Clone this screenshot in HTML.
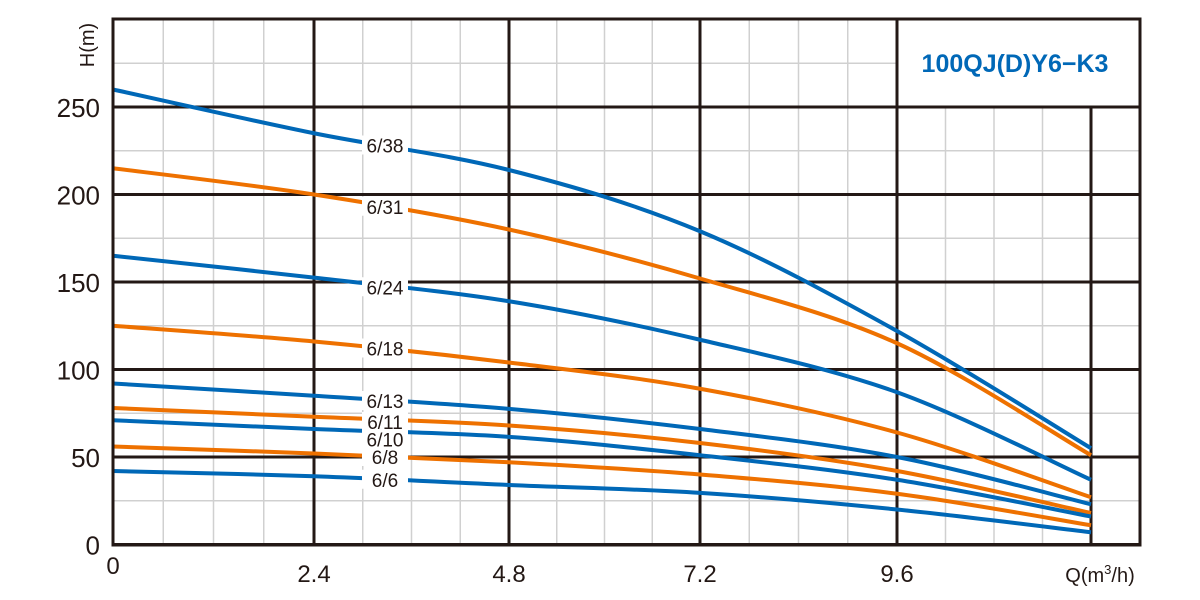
<!DOCTYPE html>
<html><head><meta charset="utf-8"><style>
body{margin:0;background:#fff;}
svg{display:block;font-family:"Liberation Sans",Arial,sans-serif;}
</style></head><body>
<svg id="chart" width="1200" height="600" viewBox="0 0 1200 600" xmlns="http://www.w3.org/2000/svg">
<g id="grid"></g>
<g id="curves"></g>
<g id="labels"></g>
<rect x="897" y="19" width="243" height="88" fill="#fff" stroke="#231815" stroke-width="3"/>
<text x="1015" y="72" text-anchor="middle" font-size="25" font-weight="bold" fill="#0068b7">100QJ(D)Y6−K3</text>
<g id="axes"></g>
<text x="0" y="0" transform="translate(94,45) rotate(-90)" text-anchor="middle" font-size="20" fill="#231815">H(m)</text>
<text x="1100" y="582" text-anchor="middle" font-size="20" fill="#231815">Q(m<tspan font-size="13" dy="-8">3</tspan><tspan dy="8">/h)</tspan></text>
</svg>
<script>
const qPoints = [0, 2.4, 4.8, 7.2, 9.6, 12];
const seriesNames = ["6/38","6/31","6/24","6/18","6/13","6/11","6/10","6/8","6/6"];
const s638 = [260, 235, 214, 179, 122, 55];
const s631 = [215, 200, 180, 152, 115, 51];
const s624 = [165, 152.5, 139, 117, 87, 37];
const s618 = [125, 116, 104, 89, 64, 27];
const s613 = [92, 85, 77.5, 66, 50, 23];
const s611 = [78, 73, 68, 58, 42, 18];
const s610 = [71, 66, 61.5, 51, 37, 16];
const s68 = [56, 52, 47, 40, 29, 11];
const s66 = [42, 39, 34, 29.5, 20, 7];
const labelH = [228, 193, 147, 112, 82, 70, 60, 50, 37];
const xTicks = [0, 2.4, 4.8, 7.2, 9.6];
const yTicks = [0, 50, 100, 150, 200, 250];

const NS = "http://www.w3.org/2000/svg";
const allSeries = [s638,s631,s624,s618,s613,s611,s610,s68,s66];
const colors = ["#0068b7","#ee7100"];
const xKnots = [0,2.4,4.8,7.2,9.6,12,12.6];
const xPix = [113,314,509,700,897,1091,1140];
function xs(q){for(let i=0;i<xKnots.length-1;i++){if(q<=xKnots[i+1]||i==xKnots.length-2){const t=(q-xKnots[i])/(xKnots[i+1]-xKnots[i]);return xPix[i]+t*(xPix[i+1]-xPix[i]);}}}
function ys(h){return 544.5 - h*1.75;}
function mk(tag,attrs,parent){const e=document.createElementNS(NS,tag);for(const k in attrs)e.setAttribute(k,attrs[k]);parent.appendChild(e);return e;}
const grid=document.getElementById('grid');
// minor grid
for(let q=0.6;q<12.6;q+=0.6){const x=xs(q);const l=mk('line',{x1:x,x2:x,y1:19,y2:544,stroke:'#d0d0d0','stroke-width':1.5},grid);

}
for(let h=25;h<300;h+=50){const y=ys(h);const l=mk('line',{x1:113,x2:1140,y1:y,y2:y,stroke:'#d0d0d0','stroke-width':1.5},grid);

}
const axes=document.getElementById('axes');
for(const q of xTicks.concat([12])){const x=xs(q);const l=mk('line',{x1:x,x2:x,y1:q==12?107:19,y2:545,stroke:'#231815','stroke-width':3},grid);

}
for(const h of yTicks){const y=ys(h);const l=mk('line',{x1:113,x2:1140,y1:y,y2:y,stroke:'#231815','stroke-width':3},grid);


const t=mk('text',{x:100,y:y+10,'text-anchor':'end','font-size':26,fill:'#231815'},axes);t.textContent=String(h);

}
const frame=mk('rect',{x:113,y:19,width:1027,height:526,fill:'none',stroke:'#231815','stroke-width':3},axes);


for(const q of xTicks){const t=mk('text',{x:xs(q),y:q==0?574:582,'text-anchor':'middle','font-size':24,fill:'#231815'},axes);t.textContent=q==0?'0':q.toFixed(1);

}
function pathFor(vals){const p=qPoints.map((q,i)=>[xs(q),ys(vals[i])]);let d='M'+p[0][0]+','+p[0][1];
for(let i=0;i<p.length-1;i++){const p0=p[i-1]||p[i],p1=p[i],p2=p[i+1],p3=p[i+2]||p[i+1];
const c1=[p1[0]+(p2[0]-p0[0])/6,p1[1]+(p2[1]-p0[1])/6],c2=[p2[0]-(p3[0]-p1[0])/6,p2[1]-(p3[1]-p1[1])/6];
d+=' C'+c1+' '+c2+' '+p2;}return d;}
const curves=document.getElementById('curves'),labels=document.getElementById('labels');
allSeries.forEach((vals,i)=>{const c=mk('path',{d:pathFor(vals),fill:'none',stroke:colors[i%2],'stroke-width':4},curves);


const y=ys(labelH[i]);
const r=mk('rect',{x:362,y:y-10,width:46,height:19,fill:'#fff'},labels);


const t=mk('text',{x:385,y:y+7,'text-anchor':'middle','font-size':19,fill:'#231815'},labels);t.textContent=seriesNames[i];

});
</script>
</body></html>
